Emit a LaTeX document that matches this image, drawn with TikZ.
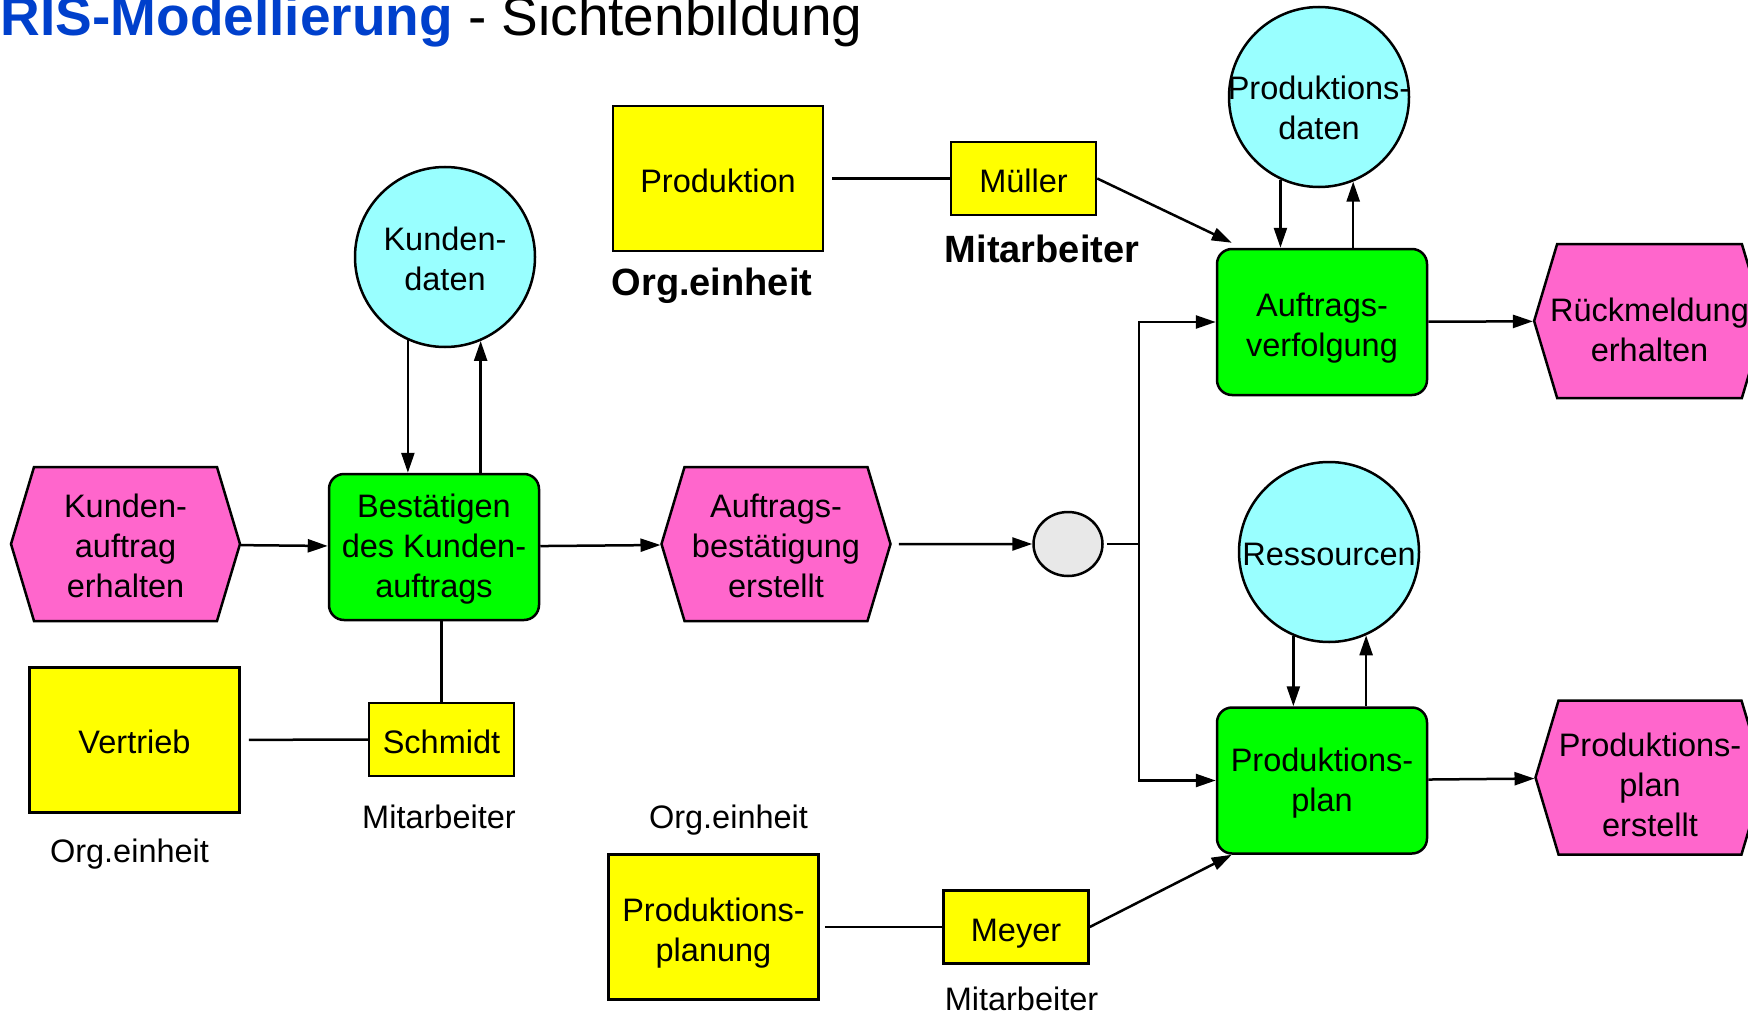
\documentclass[tikz,border=0pt]{standalone}
\usepackage{fontspec}
\setmainfont{Liberation Sans}
\usepackage{tikz}
\usetikzlibrary{arrows.meta,shapes.symbols,shapes.geometric}

\definecolor{evpink}{RGB}{255,102,204}
\definecolor{fngreen}{RGB}{0,255,0}
\definecolor{orgyellow}{RGB}{255,255,0}
\definecolor{infocyan}{RGB}{153,255,255}
\definecolor{conngrey}{RGB}{232,232,232}
\definecolor{risblue}{RGB}{0,64,204}

\begin{document}
\begin{tikzpicture}[x=1pt,y=-1pt,->,>={Triangle[length=20pt,width=13pt]},
      line width=2.5pt,every node/.style={font=\fontsize{32.5}{40}\selectfont},
      event/.style={signal,signal to=east and west,signal pointer angle=146.7,
        draw,fill=evpink,minimum width=229pt,minimum height=154pt,
        inner xsep=-7pt,align=center},
      func/.style={rectangle,rounded corners=15pt,draw,fill=fngreen,
        minimum width=210pt,minimum height=146pt,align=center},
      orgbox/.style={rectangle,draw,fill=orgyellow,minimum width=210pt,
        minimum height=145pt,align=center},
      person/.style={rectangle,draw,fill=orgyellow,minimum width=145pt,
        minimum height=73pt},
      info/.style={circle,draw,fill=infocyan,minimum size=180pt,
        inner sep=-10pt,align=center},
      xorconn/.style={ellipse,draw,fill=conngrey,minimum width=69pt,
        minimum height=64pt,inner sep=0pt},
      lbl/.style={anchor=base},
      lblbold/.style={anchor=base,font=\fontsize{38}{44}\selectfont\bfseries}]
      \useasboundingbox (0,0) rectangle (1748,1014);

      \node[anchor=base west,font=\fontsize{55}{60}\selectfont] (title) at (-4, 36)
        {\textbf{\color{risblue}RIS-Modellierung} - Sichtenbildung};

      % events
      \node[event,text height=108pt] (ka) at ( 125.5, 544) {Kunden-\\auftrag\\erhalten};
      \node[event,text height=108pt] (ab) at ( 776,   544) {Auftrags-\\bestätigung\\erstellt};
      \node[event,text height=82pt] (rm) at (1649.5, 321) {Rückmeldung\\erhalten};
      \node[event,text height=119pt] (pe) at (1650, 777.5) {Produktions-\\plan\\erstellt};

      % functions
      \node[func,text height=108pt] (bk) at ( 434, 547) {Bestätigen\\des Kunden-\\auftrags};
      \node[func,text height=75pt] (av) at (1322, 322) {Auftrags-\\verfolgung};
      \node[func,text height=68pt] (pp) at (1322, 780.5) {Produktions-\\plan};

      % data
      \node[info,text height=68pt] (kd) at ( 445, 257) {Kunden-\\daten};
      \node[info,text height=86pt] (pd) at (1319,  97) {Produktions-\\daten};
      \node[info,text height=28pt] (rs) at (1329, 552) {Ressourcen};

      % connector
      \node[xorconn] (el) at (1068, 544) {};
      \coordinate (split) at (1139, 544);

      % organisation
      \node[orgbox,text height=28pt] (pr) at ( 718, 178.5) {Produktion};
      \node[orgbox,text height=28pt] (vt) at ( 134.5, 740) {Vertrieb};
      \node[orgbox,text height=75pt] (pl) at ( 713.5, 927) {Produktions-\\planung};
      \node[person,text height=28pt] (mu) at (1023.5, 178.5) {Müller};
      \node[person,text height=28pt] (sm) at ( 441.5, 739.5) {Schmidt};
      \node[person,text height=35pt] (my) at (1016, 927) {Meyer};

      \node[lblbold] (prlbl) at ( 712, 295) {Org.einheit};
      \node[lblbold] (mulbl) at (1042, 262) {Mitarbeiter};
      \node[lbl] (vtlbl) at ( 129.5, 862) {Org.einheit};
      \node[lbl] (smlbl) at ( 439, 828) {Mitarbeiter};
      \node[lbl] (pllbl) at ( 728.5, 828) {Org.einheit};
      \node[lbl] (mylbl) at (1021.5, 1010) {Mitarbeiter};

      \path
      (ka) edge (bk)
      (bk) edge (ab)
      (ab) edge[shorten <=7pt] (el)
      (el) edge[-,shorten <=3pt] (split)

      (kd.246) edge (kd.246 |- bk.north)
      (kd.293 |- bk.north) edge (kd.293)
      (pd.245) edge (pd.245 |- av.north)
      (pd.292 |- av.north) edge (pd.292)
      (rs.247) edge (rs.247 |- pp.north)
      (rs.294 |- pp.north) edge (rs.294)

      (av) edge (rm)
      (pp) edge (pe)

      (pr) edge[-,shorten <=8pt] (mu)
      (vt) edge[-,shorten <=8pt] (sm)
      (pl) edge[-,shorten <=5pt] (my)
      (sm) edge[-] (sm |- bk.south)

      (mu.east) edge ([xshift=16pt,yshift=5pt]av.north west)
      (my.east) edge ([xshift=16pt]pp.south west)
      ;
      \draw (split) |- (av);
      \draw (split) |- (pp);

\end{tikzpicture}
\end{document}
